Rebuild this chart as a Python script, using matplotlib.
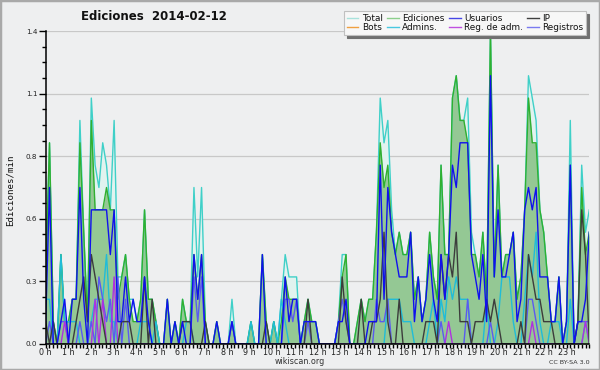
import numpy as np
import matplotlib
matplotlib.use("Agg")
import matplotlib.pyplot as plt
from matplotlib.lines import Line2D
from matplotlib.patches import Rectangle

# ---------------- data (edits per minute, 10-minute bins) ----------------
total = [0.3,0.9,0.1,0.0,0.4,0.1, 0.1,0.2,0.2,1.0,0.5,0.1, 1.1,0.8,0.7,0.9,0.8,0.6, 1.0,0.3,0.3,0.4,0.2,0.2,
         0.1,0.2,0.6,0.2,0.2,0.1, 0.0,0.0,0.2,0.0,0.1,0.0, 0.2,0.1,0.1,0.7,0.3,0.7, 0.1,0.0,0.0,0.1,0.0,0.0,
         0.0,0.2,0.0,0.0,0.0,0.0, 0.1,0.0,0.0,0.4,0.1,0.0, 0.1,0.0,0.2,0.4,0.3,0.3, 0.3,0.0,0.1,0.2,0.1,0.1,
         0.0,0.0,0.0,0.0,0.0,0.1, 0.4,0.4,0.0,0.0,0.1,0.2, 0.1,0.2,0.2,0.5,1.1,0.9, 1.0,0.6,0.4,0.5,0.4,0.4,
         0.5,0.2,0.3,0.1,0.2,0.5, 0.3,0.2,0.8,0.4,0.4,1.1, 1.2,1.0,1.0,1.1,0.5,0.4, 0.3,0.5,0.2,1.4,0.3,0.8,
         0.3,0.4,0.4,0.5,0.2,0.3, 0.6,1.2,1.1,1.0,0.6,0.5, 0.3,0.1,0.1,0.3,0.0,0.1, 1.0,0.0,0.1,0.8,0.5,0.6]
ediciones = [0.3,0.9,0.1,0.0,0.4,0.1, 0.1,0.2,0.2,0.9,0.5,0.1, 1.0,0.6,0.6,0.6,0.7,0.6, 0.6,0.2,0.3,0.4,0.2,0.1,
             0.1,0.2,0.6,0.2,0.2,0.1, 0.0,0.0,0.2,0.0,0.1,0.0, 0.2,0.1,0.1,0.4,0.2,0.4, 0.1,0.0,0.0,0.1,0.0,0.0,
             0.0,0.1,0.0,0.0,0.0,0.0, 0.1,0.0,0.0,0.4,0.1,0.0, 0.1,0.0,0.1,0.3,0.2,0.2, 0.2,0.0,0.1,0.2,0.1,0.1,
             0.0,0.0,0.0,0.0,0.0,0.1, 0.3,0.4,0.0,0.0,0.1,0.2, 0.1,0.2,0.2,0.5,0.9,0.7, 0.8,0.5,0.4,0.5,0.4,0.4,
             0.5,0.2,0.3,0.1,0.2,0.5, 0.3,0.2,0.8,0.4,0.4,1.1, 1.2,1.0,1.0,0.9,0.4,0.4, 0.3,0.5,0.2,1.4,0.3,0.8,
             0.3,0.4,0.4,0.5,0.2,0.3, 0.6,1.1,0.9,0.9,0.6,0.5, 0.3,0.1,0.1,0.3,0.0,0.1, 0.8,0.0,0.1,0.7,0.4,0.5]
usuarios = [0.1,0.7,0.0,0.0,0.1,0.2, 0.0,0.2,0.2,0.7,0.2,0.0, 0.6,0.6,0.6,0.6,0.6,0.4, 0.6,0.1,0.1,0.3,0.1,0.2,
            0.1,0.1,0.3,0.1,0.0,0.0, 0.0,0.0,0.2,0.0,0.1,0.0, 0.1,0.0,0.0,0.4,0.2,0.4, 0.0,0.0,0.0,0.1,0.0,0.0,
            0.0,0.1,0.0,0.0,0.0,0.0, 0.0,0.0,0.0,0.4,0.0,0.0, 0.0,0.0,0.0,0.3,0.1,0.2, 0.2,0.0,0.1,0.1,0.1,0.1,
            0.0,0.0,0.0,0.0,0.0,0.1, 0.1,0.2,0.0,0.0,0.0,0.0, 0.0,0.1,0.1,0.1,0.8,0.2, 0.7,0.5,0.4,0.3,0.3,0.3,
            0.5,0.1,0.3,0.1,0.2,0.4, 0.2,0.1,0.4,0.2,0.4,0.8, 0.7,0.9,0.9,0.9,0.4,0.3, 0.2,0.4,0.1,1.2,0.3,0.6,
            0.3,0.3,0.4,0.5,0.1,0.2, 0.6,0.7,0.6,0.7,0.3,0.3, 0.3,0.1,0.1,0.3,0.0,0.1, 0.8,0.0,0.1,0.1,0.2,0.5]
ip = [0.1,0.0,0.1,0.0,0.0,0.0, 0.0,0.0,0.1,0.2,0.3,0.1, 0.4,0.3,0.2,0.1,0.0,0.0, 0.0,0.0,0.1,0.1,0.1,0.0,
      0.0,0.0,0.3,0.0,0.2,0.0, 0.0,0.0,0.0,0.0,0.0,0.0, 0.1,0.1,0.1,0.0,0.0,0.0, 0.1,0.0,0.0,0.0,0.0,0.0,
      0.0,0.0,0.0,0.0,0.0,0.0, 0.0,0.0,0.0,0.0,0.1,0.0, 0.0,0.0,0.0,0.0,0.0,0.0, 0.0,0.0,0.0,0.2,0.0,0.0,
      0.0,0.0,0.0,0.0,0.0,0.0, 0.3,0.1,0.0,0.0,0.0,0.2, 0.0,0.0,0.1,0.1,0.2,0.5, 0.1,0.0,0.0,0.2,0.0,0.0,
      0.0,0.0,0.0,0.0,0.1,0.1, 0.1,0.0,0.4,0.2,0.4,0.3, 0.5,0.1,0.1,0.1,0.0,0.1, 0.1,0.1,0.2,0.1,0.2,0.1,
      0.0,0.0,0.0,0.0,0.0,0.1, 0.0,0.4,0.3,0.2,0.2,0.1, 0.1,0.1,0.0,0.0,0.0,0.0, 0.0,0.0,0.1,0.6,0.4,0.0]
bots = [0.0] * 144
admins = [0.2,0.2,0.0,0.0,0.4,0.1, 0.1,0.1,0.1,0.0,0.0,0.0, 0.1,0.2,0.2,0.2,0.4,0.1, 0.1,0.0,0.0,0.0,0.0,0.0,
          0.0,0.1,0.1,0.1,0.0,0.1, 0.0,0.0,0.0,0.0,0.0,0.0, 0.0,0.1,0.1,0.0,0.0,0.0, 0.0,0.0,0.0,0.0,0.0,0.0,
          0.0,0.0,0.0,0.0,0.0,0.0, 0.1,0.0,0.0,0.0,0.0,0.0, 0.1,0.0,0.2,0.1,0.0,0.0, 0.0,0.0,0.0,0.0,0.0,0.0,
          0.0,0.0,0.0,0.0,0.0,0.0, 0.0,0.0,0.0,0.0,0.0,0.0, 0.0,0.0,0.0,0.0,0.0,0.0, 0.2,0.2,0.2,0.2,0.1,0.1,
          0.1,0.0,0.0,0.0,0.0,0.1, 0.2,0.0,0.2,0.1,0.3,0.2, 0.3,0.2,0.2,0.2,0.0,0.0, 0.0,0.0,0.2,0.0,0.0,0.1,
          0.3,0.3,0.3,0.1,0.0,0.0, 0.2,0.4,0.3,0.5,0.1,0.0, 0.0,0.1,0.1,0.1,0.0,0.0, 0.2,0.0,0.0,0.0,0.1,0.0]
reg_adm = [0.0,0.0,0.0,0.0,0.0,0.1, 0.0,0.0,0.0,0.0,0.0,0.0, 0.0,0.2,0.0,0.2,0.0,0.0, 0.3,0.0,0.0,0.0,0.0,0.0,
           0.0,0.0,0.0,0.0,0.0,0.0, 0.0,0.0,0.0,0.0,0.0,0.0, 0.0,0.0,0.0,0.0,0.0,0.0, 0.0,0.0,0.0,0.0,0.0,0.0,
           0.0,0.0,0.0,0.0,0.0,0.0, 0.0,0.0,0.0,0.0,0.0,0.0, 0.0,0.0,0.0,0.0,0.0,0.0, 0.0,0.0,0.0,0.0,0.0,0.0,
           0.0,0.0,0.0,0.0,0.0,0.0, 0.0,0.0,0.0,0.0,0.0,0.0, 0.0,0.0,0.0,0.0,0.0,0.0, 0.0,0.0,0.0,0.0,0.0,0.0,
           0.0,0.0,0.0,0.0,0.0,0.0, 0.0,0.0,0.0,0.0,0.1,0.0, 0.0,0.0,0.0,0.0,0.0,0.0, 0.0,0.0,0.0,0.0,0.0,0.0,
           0.0,0.0,0.0,0.0,0.0,0.0, 0.0,0.0,0.1,0.0,0.0,0.0, 0.0,0.0,0.0,0.0,0.0,0.0, 0.0,0.0,0.0,0.0,0.1,0.0]
registros = [0.0,0.1,0.0,0.0,0.1,0.1, 0.0,0.0,0.0,0.1,0.0,0.0, 0.1,0.0,0.3,0.2,0.1,0.2, 0.0,0.3,0.0,0.2,0.0,0.0,
             0.0,0.0,0.0,0.0,0.0,0.0, 0.0,0.0,0.0,0.0,0.0,0.0, 0.0,0.0,0.0,0.3,0.1,0.3, 0.0,0.0,0.0,0.0,0.0,0.0,
             0.0,0.1,0.0,0.0,0.0,0.0, 0.0,0.0,0.0,0.0,0.0,0.0, 0.0,0.0,0.0,0.2,0.2,0.1, 0.2,0.0,0.0,0.1,0.0,0.0,
             0.0,0.0,0.0,0.0,0.0,0.1, 0.2,0.1,0.0,0.0,0.0,0.0, 0.0,0.0,0.0,0.2,0.1,0.1, 0.2,0.0,0.0,0.0,0.0,0.0,
             0.0,0.0,0.0,0.0,0.0,0.0, 0.0,0.0,0.1,0.0,0.0,0.0, 0.0,0.0,0.0,0.2,0.0,0.0, 0.0,0.0,0.0,0.1,0.0,0.0,
             0.0,0.0,0.0,0.0,0.0,0.0, 0.0,0.2,0.2,0.1,0.0,0.0, 0.0,0.0,0.0,0.0,0.0,0.0, 0.0,0.0,0.1,0.1,0.1,0.1]

hour_labels = [f"{h} h" for h in range(24)]
y_ticks = [0.0, 0.28, 0.56, 0.84, 1.12, 1.4]
y_labels = ["0.0", "0.3", "0.6", "0.8", "1.1", "1.4"]
legend_labels = ["Total", "Ediciones", "Usuarios", "IP", "Bots", "Admins.", "Reg. de adm.", "Registros"]

# ---------------- figure ----------------
BG = "#eeeff0"
fig = plt.figure(figsize=(6, 3.7), dpi=100, facecolor=BG)
ax = fig.add_axes([45.7 / 600, 1 - 344 / 370, (589.3 - 45.7) / 600, (344 - 31) / 370])
ax.set_facecolor(BG)

x = np.linspace(0, 24, len(total))

c_total, c_total_fill = "#3fd0c8", "#e1f3ef"
c_ed, c_ed_fill = "#30b030", "#94c894"
c_us = "#1010ee"
c_ip = "#3c3c3c"
c_bots = "#f0a030"
c_adm = "#20bcd8"
c_regadm = "#b030e0"
c_reg = "#5a5af0"

ax.fill_between(x, 0, total, color=c_total_fill, lw=0, zorder=1)
ax.fill_between(x, 0, ediciones, color=c_ed_fill, lw=0, zorder=2)
lw = 1.0
ax.plot(x, total, color=c_total, lw=lw, zorder=3)
ax.plot(x, ediciones, color=c_ed, lw=lw, zorder=4)
ax.plot(x, bots, color=c_bots, lw=lw, zorder=4)
ax.plot(x, admins, color=c_adm, lw=lw, zorder=5)
ax.plot(x, registros, color=c_reg, lw=lw, zorder=5)
ax.plot(x, reg_adm, color=c_regadm, lw=lw, zorder=5)
ax.plot(x, ip, color=c_ip, lw=lw, zorder=6)
ax.plot(x, usuarios, color=c_us, lw=lw, zorder=7)

ax.set_xlim(0, 24)
ax.set_ylim(0, 1.4)
ax.set_xticks(range(24))
ax.set_xticklabels(hour_labels, fontsize=5.8, family="DejaVu Sans")
ax.set_xticks(np.arange(0, 24.01, 1 / 6), minor=True)
ax.set_yticks(y_ticks)
ax.set_yticklabels(y_labels, fontsize=5.2, family="DejaVu Sans")
ax.set_yticks(np.arange(0, 1.401, 0.07), minor=True)
ax.tick_params(axis="x", which="major", direction="out", length=2.8, width=1, pad=0.3, colors="black")
ax.tick_params(axis="x", which="minor", direction="out", length=2.8, width=1)
ax.tick_params(axis="y", which="major", direction="out", length=5, width=1, pad=1)
ax.tick_params(axis="y", which="minor", direction="out", length=3, width=1)
for t in ax.get_xticklabels() + ax.get_yticklabels():
    t.set_color("#222222")

ax.grid(axis="y", which="major", color="#c8c8c8", lw=0.9, zorder=0)
ax.set_axisbelow(True)
for s in ["top", "right"]:
    ax.spines[s].set_visible(False)
for s in ["left", "bottom"]:
    ax.spines[s].set_linewidth(1.1)
    ax.spines[s].set_zorder(10)

# texts
fig.text(154 / 600, 1 - 17 / 370, "Ediciones  2014-02-12", ha="center", va="center",
         fontsize=8.5, fontweight="bold", family="DejaVu Sans", color="#111111")
fig.text(10 / 600, 1 - 190 / 370, "Ediciones/min", rotation=90, ha="center", va="center",
         fontsize=6.6, family="DejaVu Sans Mono", color="#111111")
fig.text(300 / 600, 1 - 362 / 370, "wikiscan.org", ha="center", va="center",
         fontsize=5.8, family="DejaVu Sans", color="#333333")
fig.text(590 / 600, 1 - 362.5 / 370, "CC BY-SA 3.0", ha="right", va="center",
         fontsize=4.6, family="DejaVu Sans", color="#333333")

# legend
leg_colors = ["#a8e2dc", "#8ccf8c", "#4646e6", "#404040", "#f0a040", "#48c8e0", "#c050e0", "#7a7af0"]
handles = [Line2D([0], [0], color=c, lw=1.0) for c in leg_colors]
# reorder for 2 rows x 4 columns (matplotlib fills column-wise)
order = [0, 4, 1, 5, 2, 6, 3, 7]
leg = fig.legend([handles[i] for i in order], [legend_labels[i] for i in order],
                 ncol=4, loc="upper left", bbox_to_anchor=(344 / 600, 1 - 11 / 370),
                 fontsize=6.4, frameon=True, fancybox=False, shadow={"color": "#707070", "alpha": 1.0},
                 handlelength=1.3, handletextpad=0.4, columnspacing=0.5,
                 borderpad=0.3, labelspacing=0.05, borderaxespad=0.0)
leg.get_frame().set_facecolor("#f7f7f7")
leg.get_frame().set_edgecolor("#c0c0c0")
leg.get_frame().set_linewidth(0.8)
for t in leg.get_texts():
    t.set_color("#111111")

# outer border
fig.patches.append(Rectangle((0, 0), 1, 1, transform=fig.transFigure, fill=False,
                             edgecolor="#a9a9a9", lw=2.5, zorder=100))

fig.savefig("out.png", dpi=100, facecolor=BG)
